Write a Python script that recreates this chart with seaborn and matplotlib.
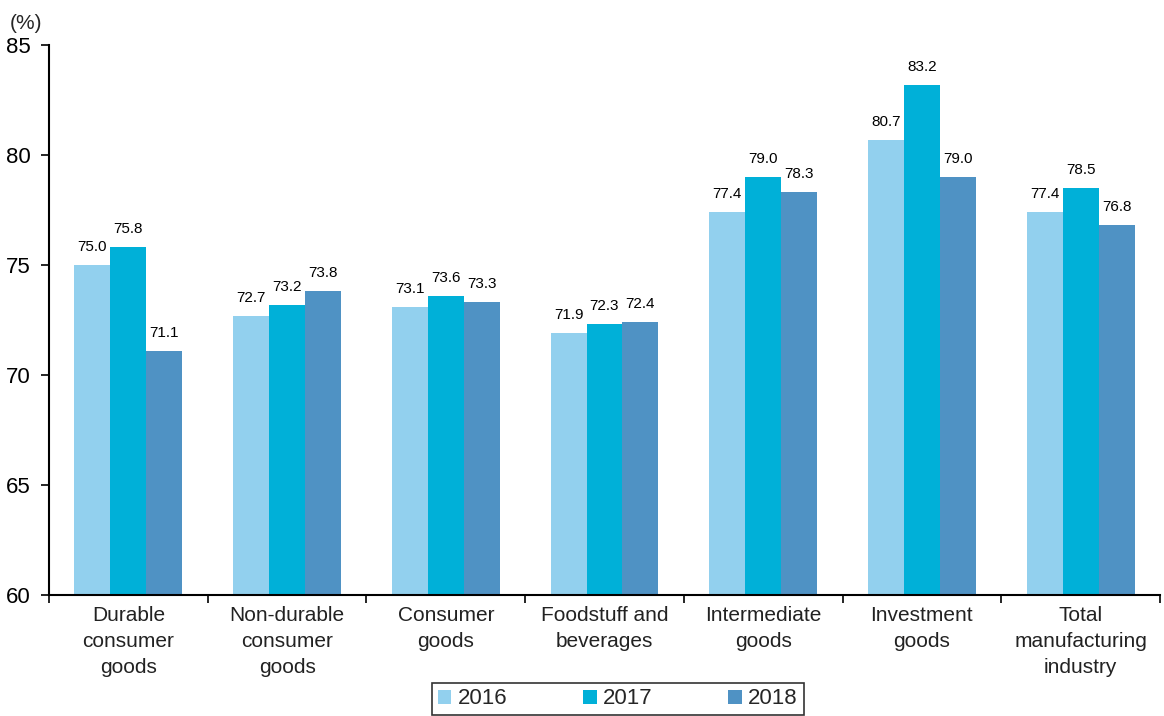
import matplotlib
matplotlib.use("Agg")
import matplotlib.pyplot as plt
import seaborn as sns
import pandas as pd
import numpy as np
from matplotlib.ticker import FixedLocator

categories = ["Durable\nconsumer\ngoods", "Non-durable\nconsumer\ngoods", "Consumer\ngoods",
              "Foodstuff and\nbeverages", "Intermediate\ngoods", "Investment\ngoods",
              "Total\nmanufacturing\nindustry"]
years = ["2016", "2017", "2018"]
v2016 = [75.0, 72.7, 73.1, 71.9, 77.4, 80.7, 77.4]
v2017 = [75.8, 73.2, 73.6, 72.3, 79.0, 83.2, 78.5]
v2018 = [71.1, 73.8, 73.3, 72.4, 78.3, 79.0, 76.8]
colors = ["#92D0EE", "#00B0D8", "#4F92C4"]

rows = []
for yr, vals in zip(years, [v2016, v2017, v2018]):
    for c, v in zip(categories, vals):
        rows.append({"category": c, "year": yr, "value": v})
df = pd.DataFrame(rows)

sns.set_theme(style="white")
plt.rcParams["font.family"] = ["Liberation Sans", "DejaVu Sans"]

fig = plt.figure(figsize=(11.64, 7.16), dpi=100)
ax = fig.add_axes([49 / 1164, 1 - 595 / 716, (1160 - 49) / 1164, (595 - 45) / 716])

sns.barplot(data=df, x="category", y="value", hue="year", palette=colors,
            width=0.68, ax=ax, saturation=1, legend=True, linewidth=0)

ax.set_ylim(60, 85)
ax.set_yticks([60, 65, 70, 75, 80, 85])
ax.set_xlim(-0.5, len(categories) - 0.5)
ax.tick_params(axis="y", labelsize=16, length=6, width=1.2, direction="out", left=True,
               colors="black", pad=7)
ax.tick_params(axis="x", which="major", labelsize=15, length=0, pad=8)
ax.xaxis.set_minor_locator(FixedLocator(np.arange(-0.5, len(categories), 1.0)))
ax.tick_params(axis="x", which="minor", length=6, width=1.2, direction="out", bottom=True, color="black")
ax.set_xlabel("")
ax.set_ylabel("")
for lbl in ax.get_xticklabels():
    lbl.set_linespacing(1.45)
    lbl.set_color("#222222")

for s in ["top", "right"]:
    ax.spines[s].set_visible(False)
for s in ["left", "bottom"]:
    ax.spines[s].set_color("black")
    ax.spines[s].set_linewidth(1.5)

for cont in ax.containers:
    for bar in cont:
        h = bar.get_height()
        ax.text(bar.get_x() + bar.get_width() / 2, h + 0.5, f"{h:.1f}",
                ha="center", va="bottom", fontsize=11, color="black")

fig.text(10 / 1164, 1 - 29 / 716, "(%)", fontsize=15, ha="left", va="baseline")

handles, labels = ax.get_legend_handles_labels()
ax.get_legend().remove()
leg = fig.legend(handles, labels, loc="center", bbox_to_anchor=(618 / 1164, 1 - 699 / 716),
                 ncol=3, frameon=True, fontsize=16, handlelength=0.6, handleheight=0.6,
                 columnspacing=3.4, handletextpad=0.3, borderpad=0.25, fancybox=False,
                 borderaxespad=0)
leg.get_frame().set_edgecolor("black")
leg.get_frame().set_linewidth(1.2)

fig.savefig("out.png", dpi=100)
